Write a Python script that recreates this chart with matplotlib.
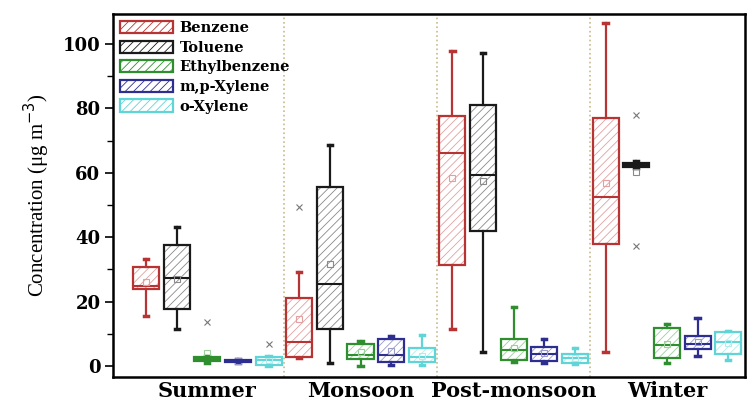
import matplotlib
matplotlib.use("Agg")
import matplotlib.pyplot as plt
from matplotlib.patches import Patch, PathPatch

plt.rcParams["hatch.linewidth"] = 0.6

seasons = ["Summer", "Monsoon", "Post-monsoon", "Winter"]
compounds = ["Benzene", "Toluene", "Ethylbenzene", "m,p-Xylene", "o-Xylene"]

# Box statistics per compound, one value per season (µg m-3)
benzene_whislo = [15.5, 2.4, 11.5, 4.4]
benzene_q1 = [23.8, 2.9, 31.4, 37.8]
benzene_med = [25.0, 7.5, 66.3, 52.6]
benzene_q3 = [30.6, 21.0, 77.6, 76.9]
benzene_whishi = [33.2, 29.3, 97.9, 106.6]
benzene_mean = [26.0, 14.5, 58.5, 56.7]
benzene_fliers = [[], [49.5], [], []]

toluene_whislo = [11.4, 0.8, 4.4, 61.5]
toluene_q1 = [17.6, 11.4, 42.0, 61.9]
toluene_med = [27.3, 25.4, 59.3, 62.5]
toluene_q3 = [37.7, 55.7, 81.1, 62.9]
toluene_whishi = [43.1, 68.6, 97.1, 63.7]
toluene_mean = [27.0, 31.7, 57.6, 60.3]
toluene_fliers = [[], [], [], [77.9, 37.3]]

ethylbenzene_whislo = [1.0, 0.0, 1.3, 1.0]
ethylbenzene_q1 = [1.6, 2.1, 1.9, 2.4]
ethylbenzene_med = [2.2, 3.5, 5.0, 6.5]
ethylbenzene_q3 = [2.8, 6.7, 8.4, 11.7]
ethylbenzene_whishi = [3.0, 7.9, 18.2, 13.2]
ethylbenzene_mean = [3.9, 4.5, 5.5, 7.0]
ethylbenzene_fliers = [[13.7], [], [], []]

mpxylene_whislo = [0.9, 0.3, 0.8, 3.1]
mpxylene_q1 = [1.2, 1.3, 1.6, 5.2]
mpxylene_med = [1.5, 3.5, 3.7, 7.0]
mpxylene_q3 = [1.8, 8.3, 6.0, 9.4]
mpxylene_whishi = [2.1, 9.3, 8.3, 14.8]
mpxylene_mean = [1.5, 4.8, 4.0, 7.5]
mpxylene_fliers = [[], [], [], []]

oxylene_whislo = [0.0, 0.3, 0.5, 1.9]
oxylene_q1 = [0.4, 1.3, 1.0, 3.6]
oxylene_med = [1.8, 2.9, 2.4, 7.5]
oxylene_q3 = [2.9, 5.5, 3.7, 10.7]
oxylene_whishi = [3.2, 9.6, 5.5, 10.9]
oxylene_mean = [1.8, 3.0, 2.4, 7.2]
oxylene_fliers = [[6.8], [], [], []]

stats_by_compound = [
    (benzene_whislo, benzene_q1, benzene_med, benzene_q3, benzene_whishi, benzene_mean, benzene_fliers),
    (toluene_whislo, toluene_q1, toluene_med, toluene_q3, toluene_whishi, toluene_mean, toluene_fliers),
    (ethylbenzene_whislo, ethylbenzene_q1, ethylbenzene_med, ethylbenzene_q3, ethylbenzene_whishi,
     ethylbenzene_mean, ethylbenzene_fliers),
    (mpxylene_whislo, mpxylene_q1, mpxylene_med, mpxylene_q3, mpxylene_whishi, mpxylene_mean, mpxylene_fliers),
    (oxylene_whislo, oxylene_q1, oxylene_med, oxylene_q3, oxylene_whishi, oxylene_mean, oxylene_fliers),
]

edge_colors = ["#b83333", "#1a1a1a", "#2f8f2f", "#2e2e90", "#5fd5d8"]
hatch_colors = ["#e3a0a0", "#8a8a8a", "#9ccf9c", "#9a9ac8", "#b4ecee"]

fig = plt.figure(figsize=(7.53, 4.0), dpi=100)
ax = fig.add_axes([0.150, 0.0575, 0.839, 0.9075])

serif_bold = dict(family="DejaVu Serif", weight="bold")

n_comp = len(compounds)
for c, (wlo, q1, med, q3, whi, mean, fl) in enumerate(stats_by_compound):
    bstats = []
    positions = []
    for s in range(len(seasons)):
        bstats.append(dict(whislo=wlo[s], q1=q1[s], med=med[s], q3=q3[s],
                           whishi=whi[s], mean=mean[s], fliers=fl[s]))
        positions.append(s * n_comp + c)
    col = edge_colors[c]
    art = ax.bxp(bstats, positions=positions, widths=0.85, capwidths=0.14,
                 patch_artist=True, showmeans=True, showfliers=True,
                 boxprops=dict(facecolor="white", edgecolor=hatch_colors[c],
                               linewidth=0, hatch="////"),
                 medianprops=dict(color=col, linewidth=1.5),
                 whiskerprops=dict(color=col, linewidth=1.6),
                 capprops=dict(color=col, linewidth=2.5),
                 meanprops=dict(marker="s", markersize=4, markerfacecolor="none",
                                markeredgecolor=hatch_colors[c], markeredgewidth=0.8),
                 flierprops=dict(marker="x", markersize=4, markeredgecolor="#777777",
                                 markeredgewidth=0.8))
    for box in art["boxes"]:
        ax.add_patch(PathPatch(box.get_path(), fill=False, edgecolor=col,
                               linewidth=1.6, zorder=box.get_zorder() + 0.1))

for xsep in [4.5, 9.5, 14.5]:
    ax.axvline(xsep, color="#c9b98a", linestyle=":", linewidth=1.2, zorder=0)

ax.set_xlim(-1.08, 19.54)
ax.set_ylim(-3.4, 109.3)
ax.set_yticks([0, 20, 40, 60, 80, 100])
ax.set_yticks(range(10, 110, 20), minor=True)
ax.set_xticks([2, 7, 12, 17])
ax.set_xticklabels(seasons, fontsize=15, **serif_bold)
ax.tick_params(axis="x", length=0, pad=3)
ax.tick_params(axis="y", which="major", length=6, width=1.2, direction="out", pad=3)
ax.tick_params(axis="y", which="minor", length=4, width=1.0, direction="out")
for lab in ax.get_yticklabels():
    lab.set_fontsize(13)
    lab.set_family("DejaVu Serif")
    lab.set_weight("bold")

for side in ["left", "bottom", "top", "right"]:
    ax.spines[side].set_linewidth(1.8)

ax.set_ylabel("Concentration (μg m$^{-3}$)", family="Liberation Serif", fontsize=15, labelpad=8)

handles = [Patch(facecolor="white", edgecolor=edge_colors[c], hatch="////", linewidth=1.6)
           for c in range(n_comp)]
ax.legend(handles, compounds, loc="upper left", bbox_to_anchor=(-0.002, 1.005),
          frameon=False, borderpad=0.1, handlelength=3.6, handleheight=0.9,
          handletextpad=0.45, labelspacing=0.38,
          prop=dict(family="DejaVu Serif", weight="bold", size=10.5))

fig.savefig("out.png", dpi=100)
